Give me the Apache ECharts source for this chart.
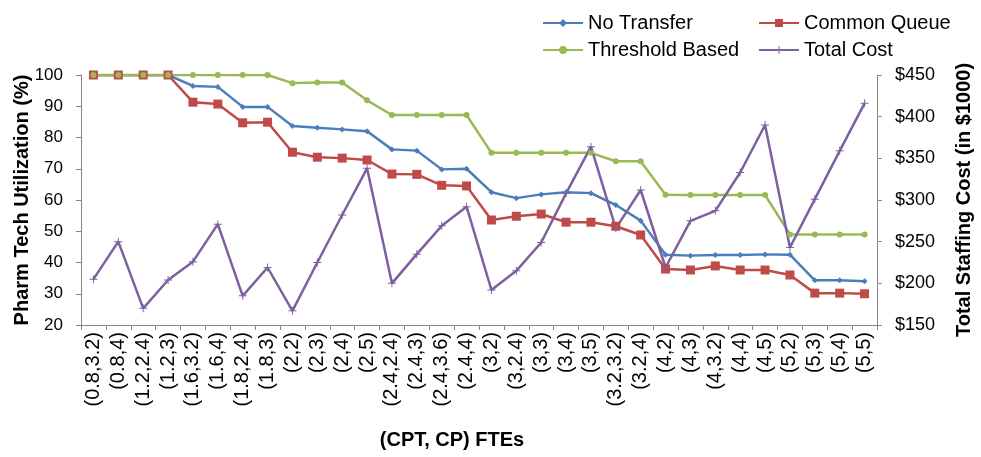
<!DOCTYPE html>
<html>
<head>
<meta charset="utf-8">
<script src="https://cdn.jsdelivr.net/npm/echarts@6/dist/echarts.min.js"></script>
<style>
  html, body { margin: 0; padding: 0; background: #fff; }
  #chart { width: 981px; height: 457px; }
</style>
</head>
<body>
<div id="chart"></div>
<script>
var categories = ['(0.8,3.2)', '(0.8,4)', '(1.2,2.4)', '(1.2,3)', '(1.6,3.2)', '(1.6,4)', '(1.8,2.4)', '(1.8,3)',
  '(2,2)', '(2,3)', '(2,4)', '(2,5)', '(2.4,2.4)', '(2.4,3)', '(2.4,3.6)', '(2.4,4)',
  '(3,2)', '(3,2.4)', '(3,3)', '(3,4)', '(3,5)', '(3.2,3.2)', '(3.2,4)', '(4,2)',
  '(4,3)', '(4,3.2)', '(4,4)', '(4,5)', '(5,2)', '(5,3)', '(5,4)', '(5,5)'];

var noTransfer = [100, 100, 100, 100, 96.5, 96.2, 89.8, 89.8,
  83.7, 83.1, 82.6, 82.0, 76.2, 75.8, 69.8, 70.0,
  62.5, 60.6, 61.8, 62.5, 62.2, 58.4, 53.4, 42.5,
  42.2, 42.4, 42.4, 42.6, 42.5, 34.3, 34.3, 34.0];

var commonQueue = [100, 100, 100, 100, 91.3, 90.7, 84.7, 84.9,
  75.3, 73.7, 73.4, 72.8, 68.3, 68.2, 64.7, 64.5,
  53.6, 54.8, 55.5, 52.9, 52.9, 51.6, 48.8, 37.9,
  37.6, 38.9, 37.6, 37.6, 36.0, 30.2, 30.2, 30.0];

var thresholdBased = [100, 100, 100, 100, 100, 100, 100, 100,
  97.4, 97.6, 97.6, 91.9, 87.2, 87.2, 87.2, 87.2,
  75.1, 75.1, 75.1, 75.1, 75.1, 72.4, 72.4, 61.7,
  61.6, 61.6, 61.6, 61.6, 49.0, 49.0, 49.0, 49.0];

// total staffing cost, in $1000
var totalCost = [205, 250, 170, 204, 226, 271, 185, 219,
  167, 225, 282, 338, 200, 235, 269, 292,
  192, 215, 249, 308, 364, 266, 312, 219,
  275, 287, 333, 390, 243, 301, 359, 416];

var chartDom = document.getElementById('chart');
var myChart = echarts.init(chartDom);
var option;

var axisGray = '#868686';
var font = 'Liberation Sans, Arial, sans-serif';
var plusPath = 'path://M4.4,0H5.6V4.4H10V5.6H5.6V10H4.4V5.6H0V4.4H4.4Z';

var legendText = { fontSize: 20, color: '#000', fontFamily: font };

option = {
  textStyle: { fontFamily: font },
  animation: false,
  legend: [
    {
      orient: 'vertical',
      left: 537,
      top: 8,
      itemWidth: 40,
      itemHeight: 10,
      itemGap: 7,
      textStyle: legendText,
      data: ['No Transfer', 'Threshold Based']
    },
    {
      orient: 'vertical',
      left: 753,
      top: 8,
      itemWidth: 40,
      itemHeight: 10,
      itemGap: 7,
      textStyle: legendText,
      data: ['Common Queue', 'Total Cost']
    }
  ],
  grid: {
    left: 81,
    right: 104,
    top: 75,
    bottom: 132,
    outerBoundsMode: 'none'
  },
  xAxis: {
    type: 'category',
    data: categories,
    name: '(CPT, CP) FTEs',
    nameLocation: 'middle',
    nameGap: 105,
    nameMoveOverlap: false,
    nameTextStyle: { fontSize: 20, fontWeight: 'bold', color: '#000', padding: [0, 54, 0, 0] },
    axisLine: { lineStyle: { color: axisGray, width: 1 } },
    axisTick: { show: true, length: 5, lineStyle: { color: axisGray } },
    axisLabel: { rotate: 90, fontSize: 20, color: '#000', margin: 7, interval: 0 }
  },
  yAxis: [
    {
      type: 'value',
      min: 20,
      max: 100,
      interval: 10,
      name: 'Pharm Tech Utilization (%)',
      nameLocation: 'middle',
      nameGap: 49,
      nameMoveOverlap: false,
      nameTextStyle: { fontSize: 20, fontWeight: 'bold', color: '#000' },
      axisLine: { show: true, lineStyle: { color: axisGray } },
      axisTick: { show: true, length: 5, lineStyle: { color: axisGray } },
      axisLabel: { fontSize: 17, color: '#000', margin: 18 },
      splitLine: { show: false }
    },
    {
      type: 'value',
      min: 150,
      max: 450,
      interval: 50,
      name: 'Total Staffing Cost (in $1000)',
      nameLocation: 'middle',
      nameGap: 77,
      nameRotate: 90,
      nameMoveOverlap: false,
      nameTextStyle: { fontSize: 20, fontWeight: 'bold', color: '#000' },
      axisLine: { show: true, lineStyle: { color: axisGray } },
      axisTick: { show: true, length: 5, lineStyle: { color: axisGray } },
      axisLabel: { fontSize: 18, color: '#000', margin: 18, formatter: '${value}' },
      splitLine: { show: false }
    }
  ],
  series: [
    {
      name: 'No Transfer',
      type: 'line',
      yAxisIndex: 0,
      data: noTransfer,
      symbol: 'diamond',
      symbolSize: 6,
      color: '#4A7EBB',
      lineStyle: { width: 2.5 }
    },
    {
      name: 'Common Queue',
      type: 'line',
      yAxisIndex: 0,
      data: commonQueue,
      symbol: 'rect',
      symbolSize: 9,
      color: '#BE4B48',
      lineStyle: { width: 2.5 }
    },
    {
      name: 'Threshold Based',
      type: 'line',
      yAxisIndex: 0,
      data: thresholdBased,
      symbol: 'circle',
      symbolSize: 6,
      color: '#98B954',
      lineStyle: { width: 2.5 }
    },
    {
      name: 'Total Cost',
      type: 'line',
      yAxisIndex: 1,
      data: totalCost,
      symbol: plusPath,
      symbolSize: 8,
      color: '#7D60A0',
      lineStyle: { width: 2.5 }
    }
  ]
};

if (option && typeof option === 'object') {
  myChart.setOption(option);
}

window.onresize = function () {
  myChart.resize();
};
</script>
</body>
</html>
